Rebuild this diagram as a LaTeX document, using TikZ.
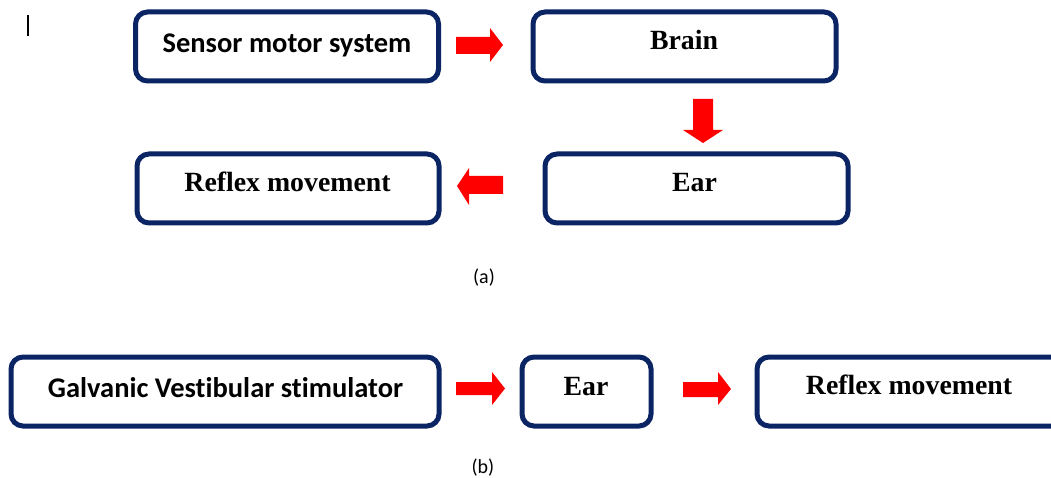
\documentclass[tikz,border=0pt]{standalone}
\usepackage{fontspec}
\setmainfont{Liberation Serif}
\newfontfamily\calfont[Ligatures=NoCommon]{Carlito}
\definecolor{navy}{RGB}{10,36,100}
\definecolor{arrred}{RGB}{255,0,0}
\begin{document}
\begin{tikzpicture}[x=1pt,y=-1pt,
  box/.style={draw=navy, line width=5pt, rounded corners=12pt, fill=white,
    rectangle, inner sep=0pt, minimum height=69pt},
  caltext/.style={anchor=base, inner sep=0pt, font=\calfont\bfseries\fontsize{28.5}{32}\selectfont},
  serftext/.style={anchor=base, inner sep=0pt, font=\bfseries\fontsize{27.8}{32}\selectfont},
  captext/.style={anchor=base, inner sep=0pt, font=\calfont\fontsize{20}{24}\selectfont},
  blk/.style={fill=arrred, draw=none}]
\useasboundingbox (0,0) rectangle (1051,478);
\clip (0,0) rectangle (1051,478);
\fill[white] (0,0) rectangle (1051,478);
% cursor mark
\draw[line width=2pt] (28,15) -- (28,36);
% (a) row
\node[box, minimum width=303pt] (sms) at (287,46.5) {};
\node[caltext] (smst) at (287,53) {Sensor motor system};
\node[box, minimum width=303pt] (brain) at (684.5,46.5) {};
\node[serftext] (braint) at (684,50) {Brain};
\node[box, minimum width=302pt] (reflexa) at (288,188.5) {};
\node[serftext] (reflexat) at (287.5,192) {Reflex movement};
\node[box, minimum width=303pt] (eara) at (696.5,188.5) {};
\node[serftext] (earat) at (694.5,192) {Ear};
\node[captext] (capa) at (484,283) {(a)};
% block arrows (a)
\fill[blk] (456,37) -- (490,37) -- (490,28) -- (503,45) -- (490,62) -- (490,54) -- (456,54) -- cycle;
\fill[blk] (693,99) -- (713,99) -- (713,130) -- (723,130) -- (703,143) -- (683,130) -- (693,130) -- cycle;
\fill[blk] (503,176) -- (469,176) -- (469,168) -- (457,186) -- (469,205) -- (469,194) -- (503,194) -- cycle;
% (b) row
\node[box, minimum width=428pt] (gvs) at (225,391.5) {};
\node[caltext] (gvst) at (225.5,397) {Galvanic Vestibular stimulator};
\node[box, minimum width=129pt] (earb) at (586.5,391.5) {};
\node[serftext] (earbt) at (586,395) {Ear};
\node[box, minimum width=312pt] (reflexb) at (913,391.5) {};
\node[serftext] (reflexbt) at (909,394) {Reflex movement};
\node[captext] (capb) at (483,473) {(b)};
\fill[blk] (456,382) -- (492,382) -- (492,372) -- (505,388.5) -- (492,405) -- (492,395) -- (456,395) -- cycle;
\fill[blk] (683,382) -- (718,382) -- (718,372) -- (731,389) -- (718,405) -- (718,397) -- (683,397) -- cycle;
\end{tikzpicture}
\end{document}
